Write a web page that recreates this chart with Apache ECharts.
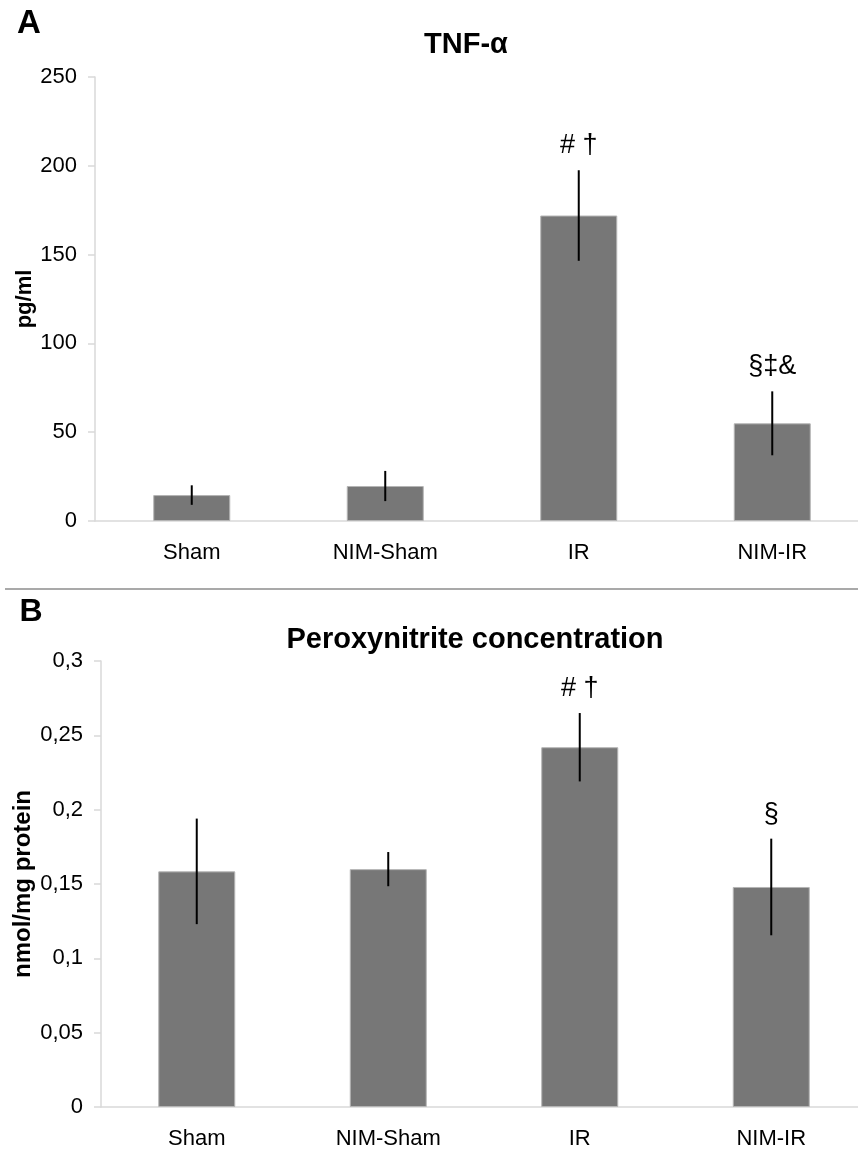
<!DOCTYPE html>
<html>
<head>
<meta charset="utf-8">
<script src="https://cdn.jsdelivr.net/npm/echarts@6/dist/echarts.min.js"></script>
<style>
html,body{margin:0;padding:0;background:#fff;overflow:hidden;}
#chart{width:870px;height:1151px;}
</style>
</head>
<body>
<div id="chart"></div>
<script>
// ---- data ----
const categories = ['Sham', 'NIM-Sham', 'IR', 'NIM-IR'];
const tnfMeans = [14.6, 19.7, 172, 55];
const tnfErrors = [5.5, 8.5, 25.5, 18];
const tnfMarks = ['', '', '# \u2020', '\u00a7\u2021&'];
const peroxMeans = [0.1585, 0.160, 0.242, 0.148];
const peroxErrors = [0.0355, 0.0115, 0.023, 0.0325];
const peroxMarks = ['', '', '# \u2020', '\u00a7'];
const tnfTicks = { min: 0, max: 250, interval: 50 };
const peroxTicks = { min: 0, max: 0.3, interval: 0.05 };
const titleA = 'TNF-\u03b1';
const titleB = 'Peroxynitrite concentration';
const yNameA = 'pg/ml';
const yNameB = 'nmol/mg protein';

const FONT = '"Liberation Sans", Arial, sans-serif';
const chart = echarts.init(document.getElementById('chart'), null, {renderer: 'canvas'});

function errItem(means, errs) {
  return means.map((m, i) => [i, m, errs[i]]);
}
function makeRender(marks) {
  return function (params, api) {
    const i = api.value(0), m = api.value(1), e = api.value(2);
    const top = api.coord([i, m + e]);
    const bot = api.coord([i, m - e]);
    const children = [{
      type: 'line',
      shape: {x1: top[0], y1: top[1], x2: bot[0], y2: bot[1]},
      style: {stroke: '#000', lineWidth: 2}
    }];
    if (marks[i]) {
      children.push({
        type: 'text',
        style: {x: top[0], y: top[1] - 11, text: marks[i], fill: '#000',
          font: '27px ' + FONT, align: 'center', verticalAlign: 'bottom'}
      });
    }
    return {type: 'group', children};
  };
}

const axisLineStyle = {color: '#d9d9d9', width: 1.5};
function xAx(gi) {
  return {
    type: 'category', gridIndex: gi, data: categories,
    axisLine: {lineStyle: axisLineStyle}, axisTick: {show: false},
    axisLabel: {color: '#000', fontSize: 22, fontFamily: FONT, margin: 21}
  };
}
function yAx(gi, t, name, gap, nameSize, fmt) {
  return {
    type: 'value', gridIndex: gi, min: t.min, max: t.max, interval: t.interval,
    name: name, nameLocation: 'middle', nameGap: gap, nameRotate: 90,
    nameMoveOverlap: false,
    nameTextStyle: {color: '#000', fontSize: nameSize, fontWeight: 'bold', fontFamily: FONT},
    axisLine: {show: true, lineStyle: axisLineStyle},
    axisTick: {show: true, length: 7, lineStyle: axisLineStyle},
    splitLine: {show: false},
    axisLabel: {color: '#000', fontSize: 22, fontFamily: FONT, margin: 18, formatter: fmt}
  };
}

const option = {
  animation: false,
  grid: [
    {left: 95, right: 1, top: 77, height: 444},
    {left: 101, right: 3, top: 661, height: 446}
  ],
  xAxis: [xAx(0), xAx(1)],
  yAxis: [
    yAx(0, tnfTicks, yNameA, 59, 22, v => String(v)),
    yAx(1, peroxTicks, yNameB, 66, 24, v => String(+v.toFixed(2)).replace('.', ','))
  ],
  series: [
    {type: 'bar', xAxisIndex: 0, yAxisIndex: 0, data: tnfMeans, barWidth: 77,
      itemStyle: {color: '#777777', borderColor: '#b5b5b5', borderWidth: 1}},
    {type: 'custom', xAxisIndex: 0, yAxisIndex: 0, data: errItem(tnfMeans, tnfErrors),
      renderItem: makeRender(tnfMarks), z: 10},
    {type: 'bar', xAxisIndex: 1, yAxisIndex: 1, data: peroxMeans, barWidth: 77,
      itemStyle: {color: '#777777', borderColor: '#b5b5b5', borderWidth: 1}},
    {type: 'custom', xAxisIndex: 1, yAxisIndex: 1, data: errItem(peroxMeans, peroxErrors),
      renderItem: makeRender(peroxMarks), z: 10}
  ],
  graphic: [
    {type: 'text', x: 29, y: 24, style: {text: 'A', font: 'bold 33px ' + FONT, fill: '#000', align: 'center', verticalAlign: 'middle'}},
    {type: 'text', x: 31, y: 612, style: {text: 'B', font: 'bold 32px ' + FONT, fill: '#000', align: 'center', verticalAlign: 'middle'}},
    {type: 'text', x: 466, y: 45, style: {text: titleA, font: 'bold 29px ' + FONT, fill: '#000', align: 'center', verticalAlign: 'middle'}},
    {type: 'text', x: 475, y: 640, style: {text: titleB, font: 'bold 29px ' + FONT, fill: '#000', align: 'center', verticalAlign: 'middle'}},
    {type: 'line', shape: {x1: 5, y1: 589, x2: 858, y2: 589}, style: {stroke: '#8c8c8c', lineWidth: 1.5}}
  ]
};
chart.setOption(option);
</script>
</body>
</html>
